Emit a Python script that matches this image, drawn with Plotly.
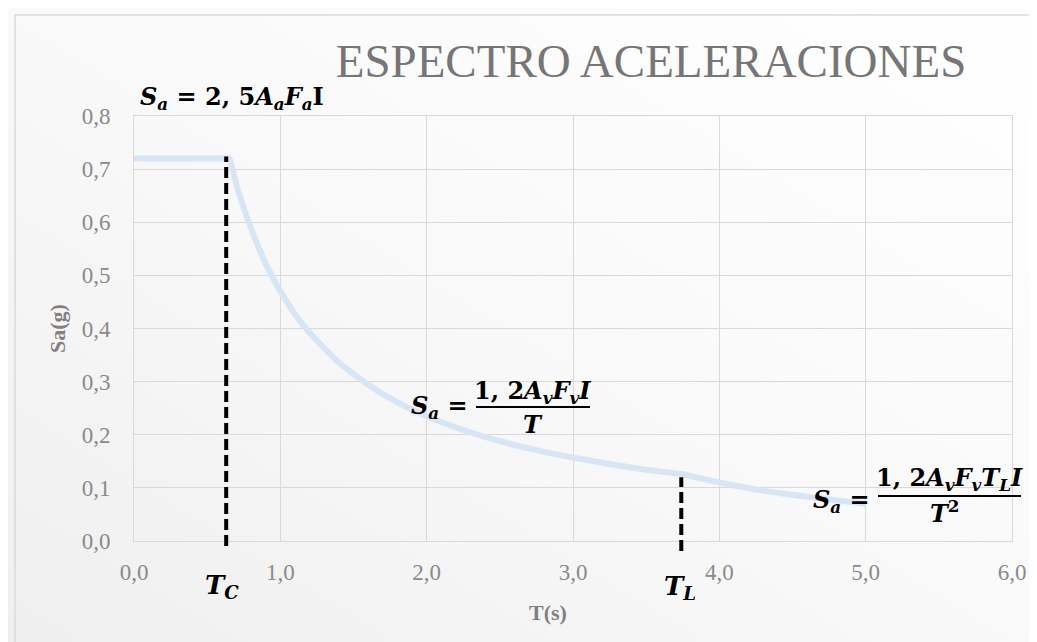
import plotly.graph_objects as go

# ---------------- data ----------------
T_s = [0.0, 0.2, 0.4, 0.6, 0.65, 0.70, 0.75, 0.80, 0.90, 1.0, 1.1, 1.2, 1.4, 1.6, 1.8,
       2.0, 2.25, 2.5, 2.75, 3.0, 3.25, 3.5, 3.74, 4.0, 4.25, 4.5, 4.75, 5.0]
Sa_g = [0.72, 0.72, 0.72, 0.72, 0.72, 0.671, 0.627, 0.588, 0.522, 0.470, 0.427, 0.392, 0.336, 0.294, 0.261,
        0.235, 0.209, 0.188, 0.171, 0.157, 0.145, 0.134, 0.126, 0.110, 0.097, 0.087, 0.078, 0.070]
Tc_s = 0.63          # T_C marker
Tc_top = 0.724
TL_s = 3.74          # T_L marker
TL_top = 0.12
x_ticks = [0, 1, 2, 3, 4, 5, 6]
y_ticks = [0.0, 0.1, 0.2, 0.3, 0.4, 0.5, 0.6, 0.7, 0.8]
title_text = "ESPECTRO ACELERACIONES"
x_title = "T(s)"
y_title = "Sa(g)"

# ---------------- layout geometry ----------------
W_FIG, H_FIG = 1037, 642
L, R, TOP, B = 126, 1004, 108, 533
PW, PH = R - L, B - TOP
X_MAX, Y_MAX = 6.0, 0.8


def px(xp):
    return (xp - L) / PW


def py(yp):
    return (B - yp) / PH


GRID = "#d9d9d9"
TICKC = "#8a8a8a"
EQ_FONT = dict(family="DejaVu Serif", size=24, color="black")

fig = go.Figure()
fig.add_trace(go.Scatter(
    x=T_s, y=Sa_g, mode="lines",
    line=dict(color="#d8e5f4", width=6, shape="spline", smoothing=0.5),
    hoverinfo="skip", showlegend=False))

svg = ("data:image/svg+xml;utf8,<svg xmlns='http://www.w3.org/2000/svg' width='100' height='100' "
       "preserveAspectRatio='none'><defs><linearGradient id='g' x1='1' y1='0' x2='0' y2='1'>"
       "<stop offset='0' stop-color='%23ffffff'/><stop offset='0.5' stop-color='%23f9f9f9'/>"
       "<stop offset='1' stop-color='%23efefef'/></linearGradient></defs>"
       "<rect width='100' height='100' fill='url(%23g)'/></svg>")

fig.update_layout(
    width=W_FIG, height=H_FIG,
    margin=dict(l=L, r=W_FIG - R, t=TOP, b=H_FIG - B),
    paper_bgcolor="#f8f8f8", plot_bgcolor="rgba(0,0,0,0)",
    separators=",.",
    showlegend=False,
    images=[dict(source=svg, xref="paper", yref="paper",
                 x=px(0), y=py(0), sizex=px(W_FIG) - px(0), sizey=py(0) - py(H_FIG),
                 xanchor="left", yanchor="top", sizing="stretch", layer="below")],
    title=dict(text=title_text, xref="container", yref="container",
               x=643 / W_FIG, y=1 - 53 / H_FIG, xanchor="center", yanchor="middle",
               font=dict(family="Liberation Serif", size=47, color="#767676")),
    xaxis=dict(range=[0, X_MAX], tickvals=x_ticks, tickformat=".1f",
               showgrid=True, gridcolor=GRID, gridwidth=1, zeroline=False,
               showline=True, linecolor=GRID, mirror=True, ticks="",
               ticklabelstandoff=10,
               tickfont=dict(family="Liberation Serif", size=23, color=TICKC)),
    yaxis=dict(range=[0, Y_MAX], tickvals=y_ticks, tickformat=".1f",
               showgrid=True, gridcolor=GRID, gridwidth=1, zeroline=False,
               showline=True, linecolor=GRID, mirror=True, ticks="",
               ticklabelstandoff=18,
               tickfont=dict(family="Liberation Serif", size=23, color=TICKC)),
)

shapes = [
    # outer chart border (left/top visible)
    dict(type="rect", xref="paper", yref="paper",
         x0=px(7), x1=px(1045), y0=py(650), y1=py(7),
         line=dict(color="#d9d9d9", width=1.5), fillcolor="rgba(0,0,0,0)", layer="below"),
    # T_C dashed line
    dict(type="line", xref="paper", yref="paper",
         x0=Tc_s / X_MAX, x1=Tc_s / X_MAX, y0=py(538), y1=Tc_top / Y_MAX,
         line=dict(color="black", width=4, dash="11px,5px")),
    # T_L dashed line
    dict(type="line", xref="paper", yref="paper",
         x0=TL_s / X_MAX, x1=TL_s / X_MAX, y0=py(543), y1=TL_top / Y_MAX,
         line=dict(color="black", width=4, dash="11px,5px")),
    # fraction bars
    dict(type="line", xref="paper", yref="paper", x0=px(468), x1=px(582), y0=py(399), y1=py(399),
         line=dict(color="black", width=2)),
    dict(type="line", xref="paper", yref="paper", x0=px(870), x1=px(1013), y0=py(488), y1=py(488),
         line=dict(color="black", width=2)),
]
fig.update_layout(shapes=shapes)


def ann(text, xp, yp, xanchor="center", yanchor="middle", font=None, textangle=0):
    fig.add_annotation(text=text, x=px(xp), y=py(yp), xref="paper", yref="paper",
                       xanchor=xanchor, yanchor=yanchor, showarrow=False,
                       font=font or EQ_FONT, textangle=textangle)


Sa = "<i>S</i><sub><i>a</i></sub>"
ann("<b>" + Sa + " = 2, 5<i>A</i><sub><i>a</i></sub><i>F</i><sub><i>a</i></sub>I</b>", 130, 90, xanchor="left")
ann("<b>" + Sa + " =</b>", 462, 399, xanchor="right")
ann("<b>1, 2<i>A</i><sub><i>v</i></sub><i>F</i><sub><i>v</i></sub><i>I</i></b>", 524, 384)
ann("<b><i>T</i></b>", 525, 416)
ann("<b>" + Sa + " =</b>", 864, 493, xanchor="right")
ann("<b>1, 2<i>A</i><sub><i>v</i></sub><i>F</i><sub><i>v</i></sub><i>T</i><sub><i>L</i></sub><i>I</i></b>", 941, 471)
ann("<b><i>T</i><sup>2</sup></b>", 937, 504)
T_FONT = dict(family="DejaVu Serif", size=26, color="black")
ann("<b><i>T</i><sub><i>C</i></sub></b>", 214, 578, font=T_FONT)
ann("<b><i>T</i><sub><i>L</i></sub></b>", 672, 579, font=T_FONT)

AX_FONT = dict(family="Liberation Serif", size=22, color="#808080")
ann("<b>" + y_title + "</b>", 49, 321, font=AX_FONT, textangle=-90)
ann("<b>" + x_title + "</b>", 540, 604, font=AX_FONT)

fig.write_html("out.html")
